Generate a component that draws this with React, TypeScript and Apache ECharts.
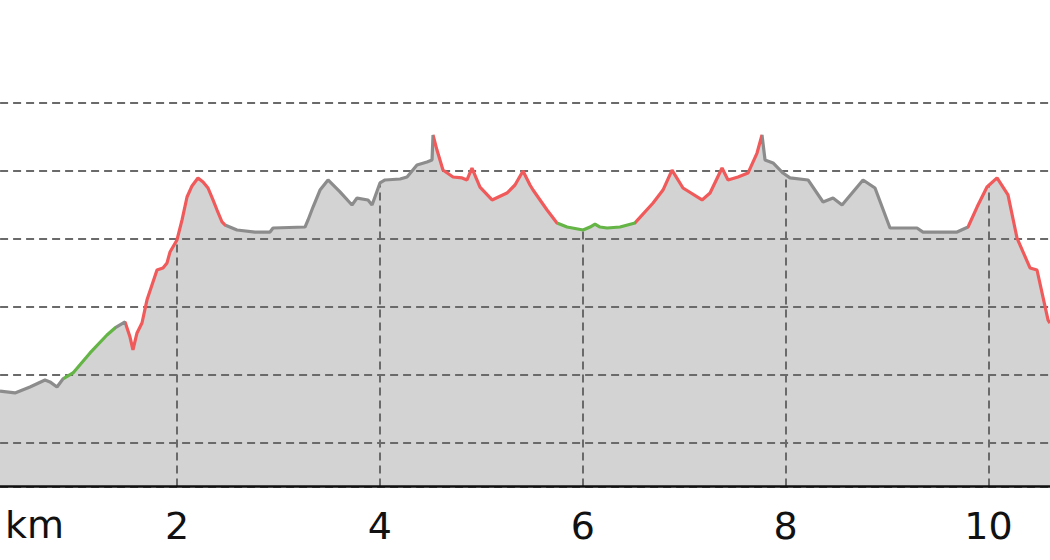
import React, { useEffect, useRef } from "react";
import * as echarts from "echarts";

// Elevation profile (distance in km, elevation in m)
const distanceKm = [
  0.255, 0.403, 0.551, 0.699, 0.748, 0.817, 0.876, 0.975, 1.143, 1.31, 1.389,
  1.488, 1.537, 1.566, 1.606, 1.655, 1.704, 1.803, 1.862, 1.902, 1.931, 2.0,
  2.05, 2.099, 2.148, 2.207, 2.257, 2.306, 2.355, 2.395, 2.444, 2.473, 2.592,
  2.769, 2.917, 2.947, 3.262, 3.292, 3.341, 3.41, 3.489, 3.607, 3.725, 3.775,
  3.883, 3.923, 4.001, 4.051, 4.199, 4.268, 4.366, 4.465, 4.514, 4.524, 4.563,
  4.622, 4.721, 4.81, 4.859, 4.908, 4.987, 5.106, 5.253, 5.332, 5.411, 5.48,
  5.51, 5.648, 5.746, 5.845, 6.003, 6.072, 6.121, 6.17, 6.239, 6.367, 6.515,
  6.693, 6.791, 6.88, 6.988, 7.176, 7.255, 7.373, 7.432, 7.531, 7.629, 7.718,
  7.767, 7.797, 7.876, 7.974, 8.043, 8.221, 8.369, 8.467, 8.556, 8.763, 8.881,
  9.029, 9.295, 9.354, 9.69, 9.798, 9.887, 9.985, 10.084, 10.192, 10.281,
  10.409, 10.478, 10.587, 10.606,
];
const elevationM = [
  188.2, 186.8, 191.2, 196.3, 194.9, 191.2, 197.1, 201.5, 216.2, 229.4, 234.6,
  239.0, 227.9, 218.4, 230.9, 238.2, 255.1, 277.2, 278.7, 282.4, 290.4, 299.3,
  314.0, 330.9, 339.0, 344.9, 341.9, 337.5, 328.7, 321.3, 312.5, 310.3, 306.6,
  305.1, 305.1, 308.1, 308.8, 314.0, 323.5, 336.0, 343.4, 334.6, 325.0, 330.1,
  328.7, 325.0, 341.2, 343.4, 344.1, 345.6, 354.4, 356.6, 358.1, 376.5, 365.4,
  350.7, 345.6, 344.9, 343.4, 352.2, 338.2, 328.7, 333.8, 339.7, 350.0, 339.7,
  336.0, 321.3, 311.8, 308.8, 306.6, 308.8, 311.0, 308.8, 308.1, 308.8, 311.8,
  326.5, 336.0, 350.7, 337.5, 328.7, 333.8, 352.2, 343.4, 345.6, 348.5, 363.2,
  376.5, 358.1, 355.9, 348.5, 344.9, 343.4, 327.2, 330.1, 325.0, 343.4, 337.5,
  308.1, 308.1, 305.1, 305.1, 308.8, 323.5, 338.2, 344.9, 332.4, 300.7,
  278.7, 277.2, 240.4, 238.2,
];

// Line colour classes along the route: segment i spans segmentEndKm[i-1]..segmentEndKm[i]
const segmentEndKm = [0.876, 1.389, 1.49, 2.473, 4.524, 5.746, 6.515, 7.767, 9.798, 10.606];
const segmentClass = ["flat", "green", "flat", "red", "flat", "red", "green", "red", "flat", "red"];
const classColor: Record<string, string> = { flat: "#8c8c8c", green: "#64b446", red: "#f05a5a" };

const xTicksKm = [2, 4, 6, 8, 10];
const xTickLabels = ["2", "4", "6", "8", "10"];
const xUnitLabel = "km";

const X_MIN = 0;
const X_MAX = 12;
const Y_MIN = 118;
const Y_MAX = 400;

function elevationAt(km: number): number {
  for (let i = 1; i < distanceKm.length; i++) {
    if (km <= distanceKm[i]) {
      const t = (km - distanceKm[i - 1]) / (distanceKm[i] - distanceKm[i - 1]);
      return elevationM[i - 1] + t * (elevationM[i] - elevationM[i - 1]);
    }
  }
  return elevationM[elevationM.length - 1];
}

export default function App() {
  const ref = useRef<HTMLDivElement>(null);
  useEffect(() => {
    if (!ref.current) return;
    const chart = echarts.init(ref.current, undefined, { renderer: "svg" });
    const points = distanceKm.map((d, i) => [d, elevationM[i]]);
    const pieces = segmentEndKm.map((end, i) => ({
      gt: i === 0 ? -1 : segmentEndKm[i - 1],
      lte: end,
      color: classColor[segmentClass[i]],
    }));
    const gridLine = { color: "#6a6a6a", width: 2, type: [8, 5] as number[] };
    const option: any = {
      animation: false,
      grid: {
        left: -25.9,
        right: -141.4,
        top: 103,
        bottom: 73.5,
        containLabel: false,
        outerBoundsMode: "none",
      },
      xAxis: {
        type: "value",
        min: X_MIN,
        max: X_MAX,
        interval: 2,
        z: 4,
        axisLine: { show: true, lineStyle: { color: "#111", width: 2.5 } },
        axisTick: { show: false },
        splitLine: { show: false },
        axisLabel: {
          margin: 20,
          fontSize: 38,
          fontFamily: "DejaVu Sans",
          color: "#111",
          formatter: (v: number) => {
            const idx = xTicksKm.indexOf(v);
            return idx >= 0 ? xTickLabels[idx] : "";
          },
        },
      },
      yAxis: {
        type: "value",
        min: Y_MIN,
        max: Y_MAX,
        splitNumber: 5,
        z: 2,
        axisLine: { show: false },
        axisTick: { show: false },
        axisLabel: { show: false },
        splitLine: { show: true, lineStyle: gridLine },
      },
      visualMap: {
        type: "piecewise",
        show: false,
        dimension: 0,
        seriesIndex: 1,
        pieces,
        outOfRange: { color: classColor.flat },
      },
      graphic: [
        {
          type: "text",
          left: 5,
          top: 506,
          style: { text: xUnitLabel, fontSize: 38, fontFamily: "DejaVu Sans", fill: "#111" },
        },
      ],
      series: [
        {
          type: "line",
          data: points,
          z: 1,
          symbol: "none",
          lineStyle: { width: 0 },
          areaStyle: { color: "#d3d3d3", opacity: 1, origin: "start" },
          markLine: {
            silent: true,
            symbol: "none",
            z: 2,
            label: { show: false },
            lineStyle: gridLine,
            data: xTicksKm.map((k) => [
              { coord: [k, Y_MIN] },
              { coord: [k, elevationAt(k)] },
            ]),
          },
        },
        {
          type: "line",
          data: points,
          z: 3,
          symbol: "none",
          lineStyle: { width: 3.2 },
        },
      ],
    };
    chart.setOption(option);
    return () => chart.dispose();
  }, []);
  return (
    <div
      ref={ref}
      style={{ position: "fixed", left: 0, top: 0, width: 1050, height: 560, background: "#fff" }}
    />
  );
}
